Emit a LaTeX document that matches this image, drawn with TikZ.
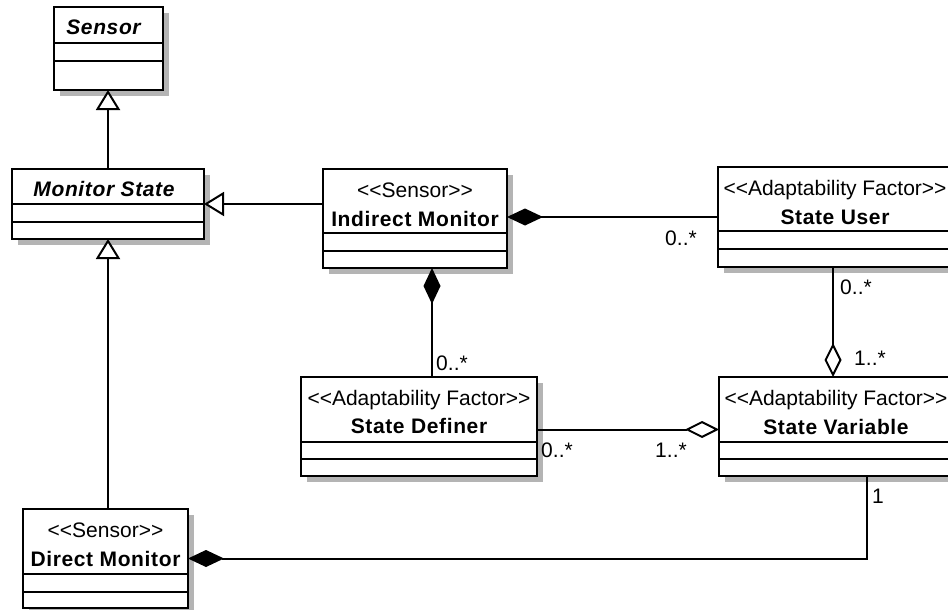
\documentclass[tikz,border=0pt]{standalone}
\usepackage{fontspec}
\newfontfamily\umlfont{Liberation Sans}
\newfontfamily\umlbfont{Liberation Sans}[LetterSpace=3]
\usetikzlibrary{arrows.meta,shadows,calc}
\definecolor{shadowgray}{RGB}{180,180,180}
\begin{document}
\begin{tikzpicture}[x=1pt,y=-1pt,
  cls/.style={draw, line width=2pt, fill=white, rectangle, inner sep=0pt, outer sep=0pt, anchor=north west,
    drop shadow={shadow xshift=6pt, shadow yshift=-6pt, fill=shadowgray, opacity=1}},
  txt/.style={font=\umlfont\fontsize{21}{24}\selectfont, inner sep=0pt, text height=15pt, text depth=0pt},
  nm/.style={txt, font=\umlbfont\fontsize{21}{24}\selectfont\bfseries},
  absname/.style={txt, font=\umlbfont\fontsize{21}{24}\selectfont\bfseries\itshape},
  lbl/.style={txt},
  conn/.style={line width=2pt},
  gen/.style={conn, -{Triangle[length=20pt, width=24pt, fill=white]}},
  comp/.style={conn, -{Diamond[length=36pt, width=17pt]}},
  aggr/.style={conn, -{Diamond[length=34pt, width=17pt, fill=white]}},
  csep/.style={line width=2pt}
]
\useasboundingbox (0,0) rectangle (948,610);
\clip (0,0) rectangle (948,610);

% Sensor
\node[cls, minimum width=109pt, minimum height=83pt] (sensor) at (54,7) {};
\draw[csep] ($(sensor.north west)+(0,36)$) -- ($(sensor.north east)+(0,36)$);
\draw[csep] ($(sensor.north west)+(0,54)$) -- ($(sensor.north east)+(0,54)$);
\node[absname] (sensorT) at ($(sensor.north)+(-5,20)$) {Sensor};

% Monitor State
\node[cls, minimum width=192pt, minimum height=70pt] (ms) at (12,169) {};
\draw[csep] ($(ms.north west)+(0,35)$) -- ($(ms.north east)+(0,35)$);
\draw[csep] ($(ms.north west)+(0,53)$) -- ($(ms.north east)+(0,53)$);
\node[absname] (msT) at ($(ms.north)+(-4,20)$) {Monitor State};

% Indirect Monitor
\node[cls, minimum width=184pt, minimum height=99pt] (im) at (323,169) {};
\draw[csep] ($(im.north west)+(0,64)$) -- ($(im.north east)+(0,64)$);
\draw[csep] ($(im.north west)+(0,82)$) -- ($(im.north east)+(0,82)$);
\node[txt] (imS) at ($(im.north)+(0,20.5)$) {<<Sensor>>};
\node[nm] (imT) at ($(im.north)+(0,49.5)$) {Indirect Monitor};

% State User
\node[cls, minimum width=234pt, minimum height=100pt] (su) at (718,167) {};
\draw[csep] ($(su.north west)+(0,64)$) -- ($(su.north east)+(0,64)$);
\draw[csep] ($(su.north west)+(0,82)$) -- ($(su.north east)+(0,82)$);
\node[txt] (suS) at ($(su.north)+(0,21)$) {<<Adaptability Factor>>};
\node[nm] (suT) at ($(su.north)+(0,50)$) {State User};

% State Definer
\node[cls, minimum width=236pt, minimum height=99pt] (sd) at (301,377) {};
\draw[csep] ($(sd.north west)+(0,65)$) -- ($(sd.north east)+(0,65)$);
\draw[csep] ($(sd.north west)+(0,82)$) -- ($(sd.north east)+(0,82)$);
\node[txt] (sdS) at ($(sd.north)+(0,20.5)$) {<<Adaptability Factor>>};
\node[nm] (sdT) at ($(sd.north)+(0,49)$) {State Definer};

% State Variable
\node[cls, minimum width=234pt, minimum height=99pt] (sv) at (719,377) {};
\draw[csep] ($(sv.north west)+(0,65)$) -- ($(sv.north east)+(0,65)$);
\draw[csep] ($(sv.north west)+(0,82)$) -- ($(sv.north east)+(0,82)$);
\node[txt] (svS) at ($(sv.north)+(0,21)$) {<<Adaptability Factor>>};
\node[nm] (svT) at ($(sv.north)+(0,50)$) {State Variable};

% Direct Monitor
\node[cls, minimum width=165pt, minimum height=99pt] (dm) at (23,509) {};
\draw[csep] ($(dm.north west)+(0,65)$) -- ($(dm.north east)+(0,65)$);
\draw[csep] ($(dm.north west)+(0,83)$) -- ($(dm.north east)+(0,83)$);
\node[txt] (dmS) at ($(dm.north)+(0,21)$) {<<Sensor>>};
\node[nm] (dmT) at ($(dm.north)+(0,49.5)$) {Direct Monitor};

% Connectors
\draw[gen] (ms.north) -- (ms.north |- sensor.south);
\draw[gen] (im.west |- ms.east) -- (ms.east);
\draw[gen] (dm.north -| ms.south) -- (ms.south);
\draw[comp] (su.west) -- (su.west -| im.east);
\coordinate (imb) at ($(im.south west)+(109,0)$);
\draw[comp] (sd.north -| imb) -- (imb);
\coordinate (sub) at ($(su.south west)+(115,0)$);
\draw[aggr] (sub) -- (sub |- sv.north);
\coordinate (sde) at ($(sd.east)+(0,3)$);
\draw[aggr] (sde) -- (sde -| sv.west);
\coordinate (svb) at ($(sv.south west)+(148,0)$);
\draw[comp] (svb) -- (svb |- dm.east) -- (dm.east);

% Multiplicities
\node[lbl] (m1) at (681,238) {0..*};
\node[lbl] (m2) at (452,363) {0..*};
\node[lbl] (m3) at (856,287) {0..*};
\node[lbl] (m4) at (870,358) {1..*};
\node[lbl] (m5) at (557,450) {0..*};
\node[lbl] (m6) at (671,450) {1..*};
\node[lbl] (m7) at (878,496) {1};
\end{tikzpicture}
\end{document}
